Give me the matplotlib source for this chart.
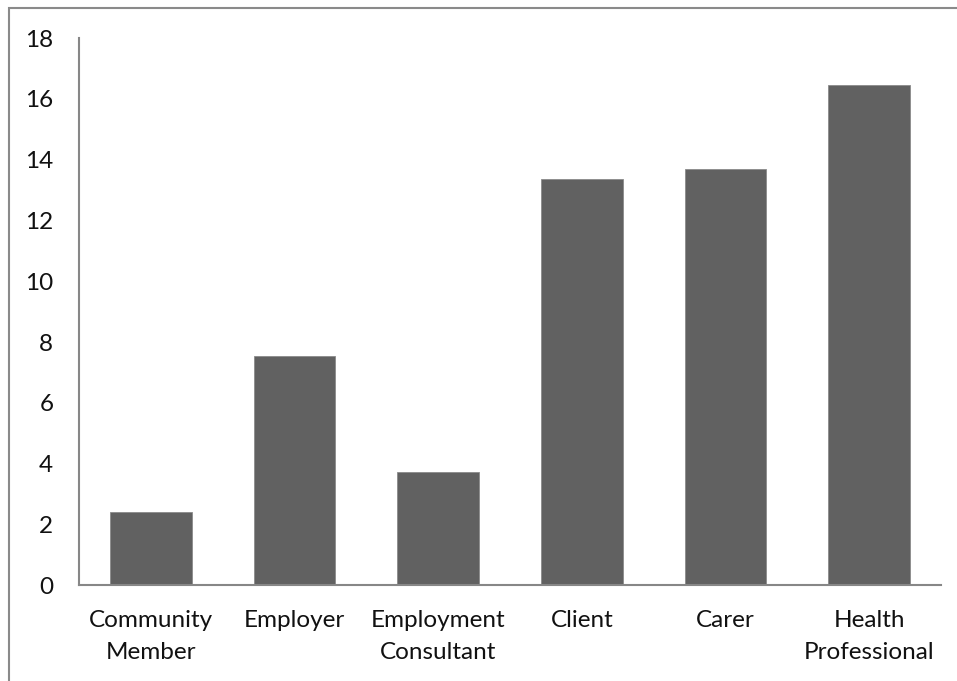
import matplotlib
matplotlib.use("Agg")
import matplotlib.pyplot as plt
from matplotlib.patches import Rectangle

categories = ["Community\nMember", "Employer", "Employment\nConsultant", "Client", "Carer", "Health\nProfessional"]
values = [2.4, 7.54, 3.73, 13.36, 13.68, 16.46]
yticks = [0, 2, 4, 6, 8, 10, 12, 14, 16, 18]

plt.rcParams['font.family'] = ['Lato', 'DejaVu Sans']

fig = plt.figure(figsize=(9.57, 6.81), dpi=100)
ax = fig.add_axes([0.0825, 0.1405, 0.9008, 0.8035])

x = list(range(len(categories)))
ax.bar(x, values, width=0.57, color="#616161", edgecolor="#8a8a8a", linewidth=0.6)
ax.set_xlim(-0.5, len(categories) - 0.5)
ax.set_ylim(0, 18)
ax.set_yticks(yticks)
ax.set_yticklabels([str(t) for t in yticks], fontsize=17.5, color="#111111")
ax.set_xticks(x)
ax.set_xticklabels(categories, fontsize=17.5, color="#111111", linespacing=1.6)
ax.tick_params(axis='both', length=0)
ax.tick_params(axis='y', pad=18.5)
ax.tick_params(axis='x', pad=18)
for s in ["top", "right"]:
    ax.spines[s].set_visible(False)
for s in ["left", "bottom"]:
    ax.spines[s].set_color("#878787")
    ax.spines[s].set_linewidth(1.5)

border = Rectangle((9 / 957, -0.1), 2.0, (681 - 8) / 681 + 0.1, transform=fig.transFigure,
                   fill=False, edgecolor="#8a8a8a", linewidth=1.5)
fig.patches.append(border)

fig.savefig("out.png", dpi=100)
